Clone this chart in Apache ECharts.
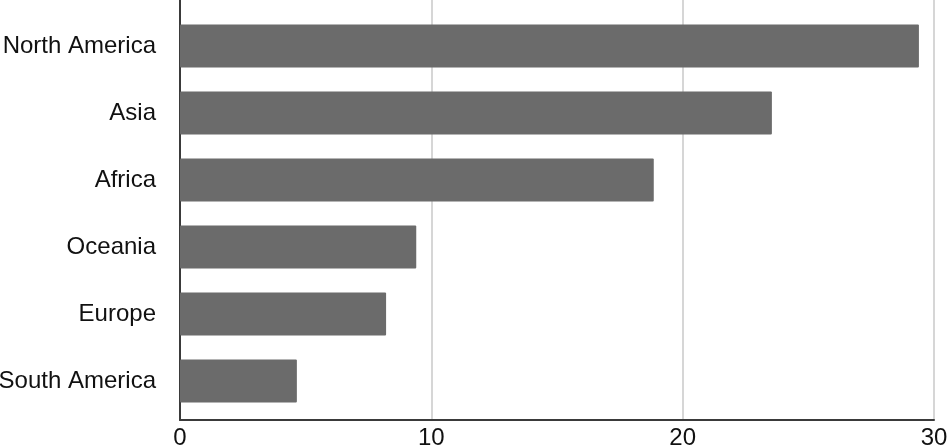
<!DOCTYPE html>
<html>
<head>
<meta charset="utf-8">
<style>
  html, body { margin: 0; padding: 0; background: #fff; }
  #chart { width: 947px; height: 448px; }
</style>
<script src="https://cdn.jsdelivr.net/npm/echarts@6/dist/echarts.min.js"></script>
</head>
<body>
<div id="chart"></div>
<script>
var regions = ['North America', 'Asia', 'Africa', 'Oceania', 'Europe', 'South America'];
var values = [29.4, 23.55, 18.85, 9.4, 8.2, 4.65];
var xTicks = [0, 10, 20, 30];

var chartDom = document.getElementById('chart');
var myChart = echarts.init(chartDom);
var option;

var font = '"Liberation Sans", Arial, Helvetica, sans-serif';

option = {
    animation: false,
    grid: [
        // bars
        { left: 180, right: 13, top: 12.5, bottom: 33.5, containLabel: false, outerBoundsMode: 'none' },
        // frame: axis lines, gridlines, tick labels
        { left: 180, right: 13, top: 0, bottom: 28, containLabel: false, outerBoundsMode: 'none' }
    ],
    xAxis: [
        {
            gridIndex: 0, type: 'value', min: xTicks[0], max: xTicks[xTicks.length - 1],
            show: false
        },
        {
            gridIndex: 1, type: 'value', min: xTicks[0], max: xTicks[xTicks.length - 1], interval: 10,
            axisLine: { show: true, lineStyle: { color: '#3a3a3a', width: 2 } },
            axisTick: { show: false },
            splitLine: { show: true, lineStyle: { color: '#c8c8c8', width: 1.5 } },
            axisLabel: { color: '#111', fontSize: 24, fontFamily: font, margin: 6 }
        }
    ],
    yAxis: [
        {
            gridIndex: 0, type: 'category', data: regions, inverse: true,
            axisLine: { show: false },
            axisTick: { show: false },
            axisLabel: { color: '#111', fontSize: 24, fontFamily: font, margin: 24 }
        },
        {
            gridIndex: 1, type: 'value', min: 0, max: 1,
            axisLine: { show: true, lineStyle: { color: '#3a3a3a', width: 2 } },
            axisTick: { show: false },
            axisLabel: { show: false },
            splitLine: { show: false }
        }
    ],
    series: [
        {
            type: 'bar',
            xAxisIndex: 0,
            yAxisIndex: 0,
            data: values,
            barWidth: 43,
            itemStyle: { color: '#6b6b6b', borderRadius: 1 }
        }
    ]
};

option && myChart.setOption(option);
</script>
</body>
</html>
